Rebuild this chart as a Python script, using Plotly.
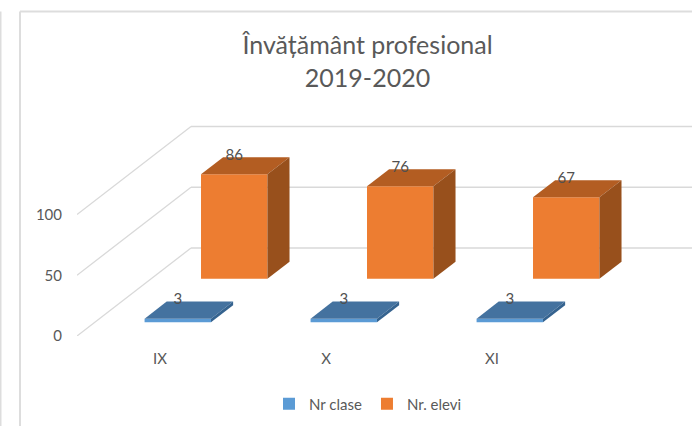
import plotly.graph_objects as go

categories = ["IX", "X", "XI"]
nr_clase = [3, 3, 3]
nr_elevi = [86, 76, 67]
y_ticks = [0, 50, 100]
title_text = "Învățământ profesional<br>2019-2020"

W, H = 692, 426
PX_LEFT, PX_BOTTOM, PX_TOP = 77, 336, 100
PX_PER_CAT, PX_PER_UNIT = 166.0, 1.215
FLOOR_DX = 114 / PX_PER_CAT      # depth shear in category units
FLOOR_DY = 88 / PX_PER_UNIT      # depth shear in value units
BAR_W = 0.4
BAR_D = 0.194
X0 = -0.5
X1 = X0 + (W - PX_LEFT) / PX_PER_CAT
Y1 = (PX_BOTTOM - PX_TOP) / PX_PER_UNIT
GRID = "#D9D9D9"
TEXT = "#595959"
FONT = "Lato, Carlito, Calibri, sans-serif"

series = [
    dict(name="Nr clase", values=nr_clase, depth=0.156,
         front="#5B9BD5", top="#44729F", side="#35638F"),
    dict(name="Nr. elevi", values=nr_elevi, depth=0.651,
         front="#ED7D31", top="#B35D22", side="#98501C"),
]

fig = go.Figure()
shapes = []
for t in y_ticks:
    shapes.append(dict(type="line", xref="x", yref="y", layer="below",
                       x0=X0, y0=t, x1=X0 + FLOOR_DX, y1=t + FLOOR_DY,
                       line=dict(color=GRID, width=1.3)))
    shapes.append(dict(type="line", xref="x", yref="y", layer="below",
                       x0=X0 + FLOOR_DX, y0=t + FLOOR_DY, x1=X1, y1=t + FLOOR_DY,
                       line=dict(color=GRID, width=1.3)))

for s in series:
    d0 = s["depth"]
    fx0, fy0 = d0 * FLOOR_DX, d0 * FLOOR_DY
    bx, by = BAR_D * FLOOR_DX, BAR_D * FLOOR_DY
    xs = [i + fx0 for i in range(len(categories))]
    fig.add_trace(go.Bar(x=xs, y=s["values"], base=[fy0] * len(xs), width=BAR_W,
                         name=s["name"], marker=dict(color=s["front"], line=dict(width=0)),
                         hoverinfo="skip"))
    for x, v in zip(xs, s["values"]):
        l, r = x - BAR_W / 2, x + BAR_W / 2
        b, t = fy0, fy0 + v
        fig.add_trace(go.Scatter(
            x=[l, r, r + bx, l + bx, l], y=[t, t, t + by, t + by, t],
            mode="lines", fill="toself", fillcolor=s["top"], line=dict(width=0),
            showlegend=False, hoverinfo="skip"))
        fig.add_trace(go.Scatter(
            x=[r, r + bx, r + bx, r, r], y=[b, b + by, t + by, t, b],
            mode="lines", fill="toself", fillcolor=s["side"], line=dict(width=0),
            showlegend=False, hoverinfo="skip"))
    fig.add_trace(go.Scatter(
        x=xs, y=[fy0 + v + by + 0.8 for v in s["values"]],
        text=[str(v) for v in s["values"]], mode="text", textposition="middle center",
        textfont=dict(family=FONT, size=15, color="#505050"),
        showlegend=False, hoverinfo="skip"))

# window frame around the chart
for x0, y0, x1, y1 in [(20, 11.5, W, 11.5), (20, 11.5, 20, H), (0.5, 11.5, 0.5, H)]:
    shapes.append(dict(type="line", xref="paper", yref="paper", layer="below",
                       x0=(x0 - PX_LEFT) / (W - PX_LEFT), x1=(x1 - PX_LEFT) / (W - PX_LEFT),
                       y0=(PX_BOTTOM - y0) / (PX_BOTTOM - PX_TOP),
                       y1=(PX_BOTTOM - y1) / (PX_BOTTOM - PX_TOP),
                       line=dict(color="#DDDDDD", width=2)))

fig.update_layout(
    width=W, height=H, autosize=False,
    margin=dict(l=PX_LEFT, r=0, t=PX_TOP, b=H - PX_BOTTOM, pad=0),
    paper_bgcolor="white", plot_bgcolor="rgba(0,0,0,0)",
    barmode="overlay", shapes=shapes,
    font=dict(family=FONT, color=TEXT),
    title=dict(text=title_text, x=367.5 / W, xanchor="center", y=1 - 54 / H, yanchor="middle",
               font=dict(family=FONT, size=25, color=TEXT)),
    legend=dict(orientation="h", x=368 / W, xanchor="center", xref="container",
                y=1 - 404 / H, yanchor="middle", yref="container", itemwidth=30,
                font=dict(family=FONT, size=15, color=TEXT), itemclick=False),
    xaxis=dict(range=[X0, X1], tickvals=list(range(len(categories))), ticktext=categories,
               showgrid=False, zeroline=False, showline=False, ticks="",
               ticklabelstandoff=12, tickfont=dict(family=FONT, size=15, color=TEXT)),
    yaxis=dict(range=[0, Y1], tickvals=y_ticks, showgrid=False, zeroline=False,
               showline=False, ticks="", ticklabelstandoff=14,
               tickfont=dict(family=FONT, size=15, color=TEXT)),
)
fig.write_html("out.html", post_script="document.body.style.margin='0';",
               config={"displayModeBar": False})
